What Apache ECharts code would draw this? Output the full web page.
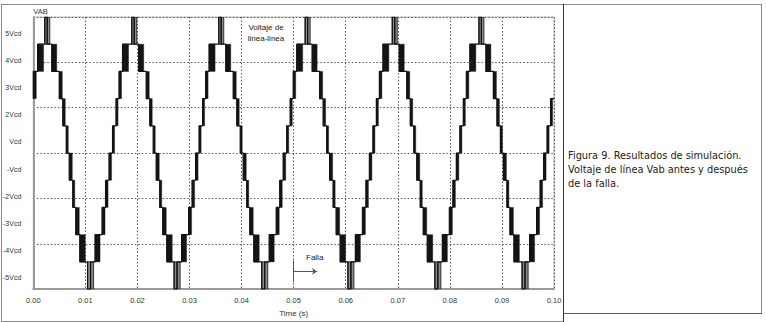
<!DOCTYPE html>
<html>
<head>
<meta charset="utf-8">
<script src="https://cdn.jsdelivr.net/npm/echarts@6/dist/echarts.min.js"></script>
<style>
html,body{margin:0;padding:0;background:#fff;}
#chart{width:766px;height:322px;}
</style>
</head>
<body>
<div id="chart"></div>
<script>
// ---- data (time in ms, level in multiples of Vcd) ----
const startLevel = 2;
const bandStart = [
  0.00, 0.83,
  2.21, 2.69, 3.55, 4.99, 5.67, 6.34, 6.91, 7.58, 8.16, 8.93,
  10.42, 11.00, 11.86, 13.21, 13.88, 14.55, 15.22, 15.89, 16.47, 17.14,
  18.91, 19.39, 20.25, 21.69, 22.37, 23.04, 23.61, 24.28, 24.86, 25.63,
  27.04, 27.62, 28.48, 29.83, 30.50, 31.17, 31.84, 32.51, 33.09, 33.76,
  35.62, 36.10, 36.96, 38.40, 39.08, 39.75, 40.32, 40.99, 41.57, 42.34,
  43.87, 44.45, 45.31, 46.66, 47.33, 48.00, 48.67, 49.34, 49.92, 50.59,
  52.21, 52.69, 53.55, 54.99, 55.67, 56.34, 56.91, 57.58, 58.16, 58.93,
  60.42, 61.00, 61.86, 63.21, 63.88, 64.55, 65.22, 65.89, 66.47, 67.14,
  68.94, 69.42, 70.28, 71.72, 72.40, 73.07, 73.64, 74.31, 74.89, 75.66,
  77.12, 77.70, 78.56, 79.91, 80.58, 81.25, 81.92, 82.59, 83.17, 83.84,
  85.58, 86.06, 86.92, 88.36, 89.04, 89.71, 90.28, 90.95, 91.53, 92.30,
  93.87, 94.45, 95.31, 96.66, 97.33, 98.00, 98.67, 99.34
];
const bandEnd = [
  0.58, 1.98,
  2.69, 3.17, 4.51, 5.57, 6.14, 6.72, 7.49, 7.97, 8.83, 9.98,
  11.00, 11.58, 12.82, 13.78, 14.36, 15.03, 15.61, 16.28, 16.95, 18.29,
  19.39, 19.87, 21.21, 22.27, 22.84, 23.42, 24.19, 24.67, 25.53, 26.68,
  27.62, 28.20, 29.44, 30.40, 30.98, 31.65, 32.23, 32.90, 33.57, 34.91,
  36.10, 36.58, 37.92, 38.98, 39.55, 40.13, 40.90, 41.38, 42.24, 43.39,
  44.45, 45.03, 46.27, 47.23, 47.81, 48.48, 49.06, 49.73, 50.40, 51.74,
  52.69, 53.17, 54.51, 55.57, 56.14, 56.72, 57.49, 57.97, 58.83, 59.98,
  61.00, 61.58, 62.82, 63.78, 64.36, 65.03, 65.61, 66.28, 66.95, 68.29,
  69.42, 69.90, 71.24, 72.30, 72.87, 73.45, 74.22, 74.70, 75.56, 76.71,
  77.70, 78.28, 79.52, 80.48, 81.06, 81.73, 82.31, 82.98, 83.65, 84.99,
  86.06, 86.54, 87.88, 88.94, 89.51, 90.09, 90.86, 91.34, 92.20, 93.35,
  94.45, 95.03, 96.27, 97.23, 97.81, 98.48, 99.06, 99.73
];
const levelAfter = [
  3, 4,
  5, 4, 3, 2, 1, 0, -1, -2, -3, -4,
  -5, -4, -3, -2, -1, 0, 1, 2, 3, 4,
  5, 4, 3, 2, 1, 0, -1, -2, -3, -4,
  -5, -4, -3, -2, -1, 0, 1, 2, 3, 4,
  5, 4, 3, 2, 1, 0, -1, -2, -3, -4,
  -5, -4, -3, -2, -1, 0, 1, 2, 3, 4,
  5, 4, 3, 2, 1, 0, -1, -2, -3, -4,
  -5, -4, -3, -2, -1, 0, 1, 2, 3, 4,
  5, 4, 3, 2, 1, 0, -1, -2, -3, -4,
  -5, -4, -3, -2, -1, 0, 1, 2, 3, 4,
  5, 4, 3, 2, 1, 0, -1, -2, -3, -4,
  -5, -4, -3, -2, -1, 0, 1, 2
];
const yLevelLabels = ['-5Vcd','-4Vcd','-3Vcd','-2Vcd','-Vcd','Vcd','2Vcd','3Vcd','4Vcd','5Vcd'];
const faultTime = 50;          // ms
const faultArrowEnd = 54.5;    // ms
const faultLevels = [-3.95, -4.75, -4.35];

// ---- build series data from the arrays ----
const stairData = [[0, startLevel]];
const bandData = [];
let cur = startLevel;
for (let i = 0; i < bandStart.length; i++) {
  const nl = levelAfter[i];
  stairData.push([bandStart[i], cur]);
  stairData.push([bandStart[i], nl]);
  bandData.push([bandStart[i], bandEnd[i], Math.min(cur, nl), Math.max(cur, nl)]);
  cur = nl;
}
stairData.push([100, cur]);

const chart = echarts.init(document.getElementById('chart'), null, {renderer: 'svg'});
const labelFont = 'Liberation Sans';
chart.setOption({
  animation: false,
  backgroundColor: '#fff',
  grid: {left: 33, right: 212, top: 17, bottom: 28, show: true, borderColor: '#b4b4b4', borderWidth: 1, containLabel: false},
  xAxis: {
    type: 'value', min: 0, max: 100, interval: 10,
    name: 'Time (s)', nameLocation: 'middle', nameGap: 17,
    nameTextStyle: {fontFamily: labelFont, fontSize: 8, color: '#333'},
    axisLine: {show: true, onZero: false, lineStyle: {color: '#9a9a9a', width: 2}},
    axisTick: {show: false},
    axisLabel: {fontFamily: labelFont, fontSize: 7.5, color: '#333', margin: 7,
      formatter: v => (v / 1000).toFixed(2)},
    splitLine: {show: true, lineStyle: {color: '#555', type: [1.5, 2], width: 1}}
  },
  yAxis: [{
    type: 'value', min: -5, max: 5, interval: 5 / 3,
    name: 'VAB', nameLocation: 'end', nameGap: 2,
    nameTextStyle: {fontFamily: labelFont, fontSize: 7.5, color: '#333', align: 'left', verticalAlign: 'bottom'},
    axisLine: {show: true, onZero: false, lineStyle: {color: '#9a9a9a', width: 2}},
    axisTick: {show: false},
    axisLabel: {show: false},
    splitLine: {show: true, lineStyle: {color: '#555', type: [1.5, 2], width: 1}}
  }, {
    type: 'category', data: yLevelLabels, position: 'left', boundaryGap: true,
    axisLine: {show: false}, axisTick: {show: false}, splitLine: {show: false},
    axisLabel: {interval: 0, fontFamily: labelFont, fontSize: 7, color: '#333', margin: 12, verticalAlign: 'top', lineHeight: 5}
  }],
  graphic: [
    {type: 'line', shape: {x1: 1, y1: 4.5, x2: 762, y2: 4.5}, style: {stroke: '#8a8a8a', lineWidth: 1}},
    {type: 'line', shape: {x1: 1.5, y1: 4, x2: 1.5, y2: 322}, style: {stroke: '#8a8a8a', lineWidth: 1}},
    {type: 'line', shape: {x1: 1, y1: 321.5, x2: 563, y2: 321.5}, style: {stroke: '#8a8a8a', lineWidth: 1}},
    {type: 'line', shape: {x1: 563.5, y1: 4, x2: 563.5, y2: 322}, style: {stroke: '#333', lineWidth: 1}},
    {type: 'line', shape: {x1: 761.5, y1: 4, x2: 761.5, y2: 313}, style: {stroke: '#8a8a8a', lineWidth: 1}},
    {type: 'line', shape: {x1: 563, y1: 313.5, x2: 762, y2: 313.5}, style: {stroke: '#555', lineWidth: 1}},
    {type: 'text', x: 266, y: 33, style: {text: 'Voltaje de\nlinea-linea', font: '8px "Liberation Sans"', fill: '#222', align: 'center', verticalAlign: 'middle', lineHeight: 10.5}},
    {type: 'text', x: 306, y: 257, style: {text: 'Falla', font: '8px "Liberation Sans"', fill: '#222', align: 'left', verticalAlign: 'middle'}},
    {type: 'text', x: 568, y: 149, style: {text: 'Figura 9. Resultados de simulación.\nVoltaje de línea Vab antes y después\nde la falla.', font: '9.8px "DejaVu Sans"', fill: '#1a1a1a', align: 'left', verticalAlign: 'top', lineHeight: 13.6}}
  ],
  series: [{
    type: 'custom', xAxisIndex: 0, yAxisIndex: 0, clip: true, z: 2,
    data: bandData,
    encode: {x: [0, 1], y: [2, 3]},
    renderItem: function (params, api) {
      const s = api.value(0), e = api.value(1), lo = api.value(2), hi = api.value(3);
      const p1 = api.coord([s, hi]);
      const p2 = api.coord([e, lo]);
      const edge = (hi === 5 || lo === -5);
      return {
        type: 'rect',
        shape: {x: p1[0], y: p1[1], width: Math.max(p2[0] - p1[0], 1), height: p2[1] - p1[1]},
        style: {fill: edge ? '#8c8c8c' : '#141414', stroke: '#111', lineWidth: edge ? 0.8 : 0.4}
      };
    }
  }, {
    type: 'line', xAxisIndex: 0, yAxisIndex: 0, z: 3,
    data: stairData, showSymbol: false, symbol: 'none',
    lineStyle: {color: '#111', width: 1.2},
    markLine: {
      silent: true, animation: false,
      lineStyle: {color: '#555', width: 1, type: 'solid'},
      label: {show: false},
      data: [
        [{coord: [faultTime, faultLevels[0]], symbol: 'none'}, {coord: [faultTime, faultLevels[1]], symbol: 'none'}],
        [{coord: [faultTime, faultLevels[2]], symbol: 'none'}, {coord: [faultArrowEnd, faultLevels[2]], symbol: 'arrow', symbolSize: 5}]
      ]
    }
  }]
});
</script>
</body>
</html>
